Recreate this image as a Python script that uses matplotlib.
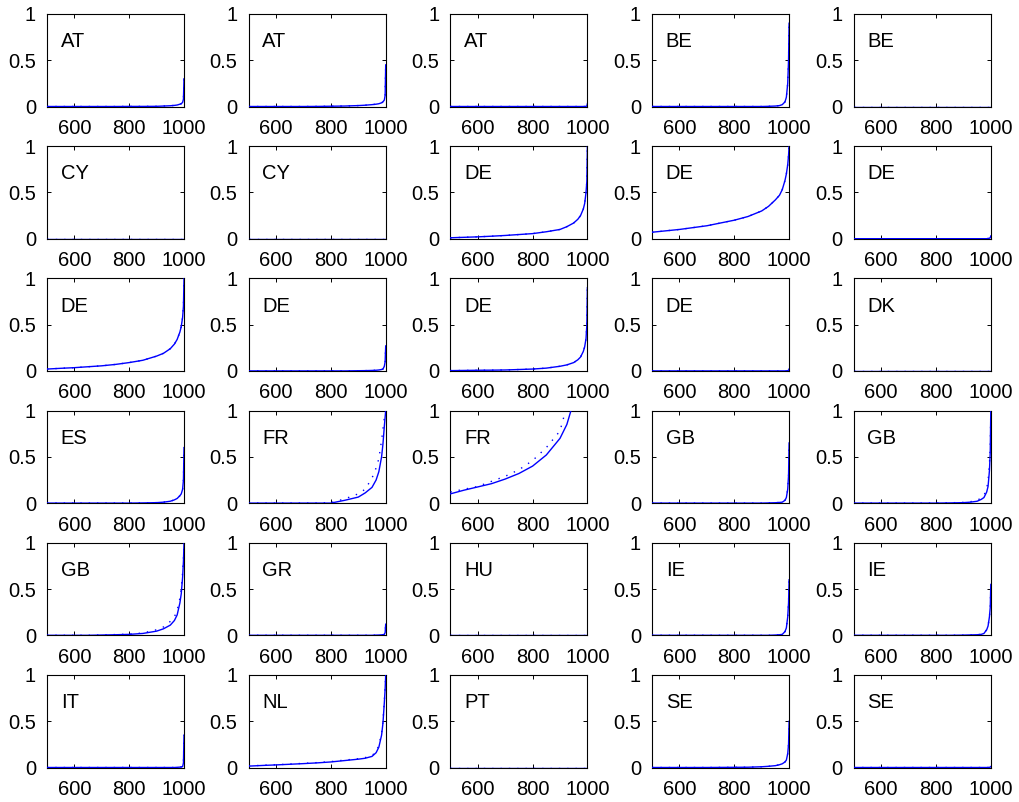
import numpy as np
import matplotlib
matplotlib.use("Agg")
import matplotlib.pyplot as plt

plt.rcParams['font.family'] = ['Liberation Sans', 'DejaVu Sans']

# panel labels, row by row (6 rows x 5 columns)
labels = ["AT", "AT", "AT", "BE", "BE",
          "CY", "CY", "DE", "DE", "DE",
          "DE", "DE", "DE", "DE", "DK",
          "ES", "FR", "FR", "GB", "GB",
          "GB", "GR", "HU", "IE", "IE",
          "IT", "NL", "PT", "SE", "SE"]

# common x grid
x = [500, 550, 600, 650, 700, 750, 800, 850, 900, 925, 950, 965, 975, 985, 990, 995, 998, 1000]

nan = float("nan")
zero = [0] * 18

# solid blue curves
solid = [
    [0, 0, 0, 0, 0, 0, 0.001, 0.001, 0.002, 0.005, 0.008, 0.012, 0.016, 0.025, 0.03, 0.045, 0.08, 0.3],
    [0, 0, 0, 0, 0, 0.001, 0.003, 0.005, 0.01, 0.014, 0.02, 0.025, 0.03, 0.04, 0.05, 0.07, 0.12, 0.45],
    [0, 0, 0, 0, 0, 0, 0, 0, 0, 0, 0, 0, 0, 0, 0, 0.002, 0.005, 0.03],
    [0, 0, 0, 0, 0, 0, 0, 0, 0, 0.002, 0.005, 0.01, 0.02, 0.05, 0.1, 0.25, 0.5, 0.9],
    zero,
    zero,
    zero,
    [0.01, 0.015, 0.02, 0.027, 0.035, 0.045, 0.055, 0.075, 0.1, 0.13, 0.17, 0.21, 0.25, 0.32, 0.38, 0.5, 0.62, 1.0],
    [0.07, 0.085, 0.1, 0.12, 0.14, 0.17, 0.2, 0.24, 0.3, 0.35, 0.42, 0.47, 0.53, 0.63, 0.7, 0.8, 0.9, 1.0],
    [0, 0, 0, 0, 0, 0, 0, 0, 0, 0, 0, 0, 0, 0, 0.002, 0.005, 0.01, 0.03],
    [0.02, 0.028, 0.035, 0.045, 0.055, 0.07, 0.09, 0.115, 0.16, 0.19, 0.24, 0.29, 0.34, 0.42, 0.48, 0.58, 0.7, 1.0],
    [0, 0, 0, 0, 0, 0, 0, 0, 0.002, 0.003, 0.005, 0.007, 0.01, 0.015, 0.02, 0.05, 0.1, 0.27],
    [0.003, 0.005, 0.007, 0.008, 0.01, 0.015, 0.02, 0.03, 0.05, 0.065, 0.09, 0.12, 0.15, 0.21, 0.26, 0.35, 0.5, 0.9],
    [0, 0, 0, 0, 0, 0, 0, 0, 0, 0, 0, 0, 0, 0, 0, 0.003, 0.006, 0.02],
    zero,
    [0, 0, 0, 0, 0, 0, 0, 0.002, 0.005, 0.01, 0.02, 0.035, 0.05, 0.08, 0.1, 0.15, 0.25, 0.6],
    [0, 0, 0, 0, 0, 0, 0, 0.03, 0.065, 0.11, 0.17, 0.25, 0.34, 0.5, 0.64, 0.83, 0.93, 1.0],
    [0.10, 0.14, 0.175, 0.21, 0.26, 0.32, 0.40, 0.52, 0.70, 0.85, 1.1, nan, nan, nan, nan, nan, nan, nan],
    [0, 0, 0, 0, 0, 0, 0, 0, 0, 0.002, 0.004, 0.007, 0.01, 0.03, 0.06, 0.15, 0.3, 0.65],
    [0, 0, 0, 0, 0, 0, 0, 0.002, 0.005, 0.01, 0.02, 0.04, 0.06, 0.12, 0.18, 0.35, 0.55, 1.0],
    [0, 0, 0, 0, 0.003, 0.006, 0.01, 0.02, 0.045, 0.07, 0.11, 0.16, 0.22, 0.35, 0.45, 0.63, 0.8, 1.0],
    [0, 0, 0, 0, 0, 0, 0, 0, 0, 0, 0, 0.002, 0.003, 0.005, 0.007, 0.01, 0.03, 0.12],
    zero,
    [0, 0, 0, 0, 0, 0, 0, 0, 0, 0, 0.003, 0.006, 0.01, 0.04, 0.08, 0.2, 0.35, 0.6],
    [0, 0, 0, 0, 0, 0, 0, 0, 0.002, 0.004, 0.006, 0.01, 0.02, 0.06, 0.1, 0.2, 0.3, 0.55],
    [0, 0, 0, 0, 0, 0, 0, 0, 0, 0, 0, 0, 0.002, 0.004, 0.006, 0.01, 0.05, 0.35],
    [0.015, 0.022, 0.028, 0.035, 0.042, 0.05, 0.06, 0.075, 0.09, 0.1, 0.12, 0.16, 0.22, 0.35, 0.48, 0.7, 0.85, 1.0],
    zero,
    [0, 0, 0, 0, 0, 0.001, 0.002, 0.003, 0.008, 0.013, 0.02, 0.03, 0.04, 0.06, 0.08, 0.15, 0.25, 0.5],
    [0, 0, 0, 0, 0, 0, 0, 0, 0, 0, 0, 0, 0, 0, 0, 0.002, 0.004, 0.01],
]

# dotted curves where they differ visibly from the solid one (None = same)
dotted = [None] * 30
dotted[16] = [0, 0, 0, 0, 0, 0, 0.005, 0.045, 0.1, 0.15, 0.27, 0.38, 0.48, 0.68, 0.8, 0.92, 0.97, 1.0]
dotted[17] = [0.12, 0.15, 0.18, 0.235, 0.29, 0.36, 0.46, 0.6, 0.78, 1.05, nan, nan, nan, nan, nan, nan, nan, nan]
dotted[19] = [0, 0, 0, 0, 0, 0, 0.001, 0.003, 0.008, 0.015, 0.03, 0.055, 0.08, 0.16, 0.24, 0.42, 0.6, 1.0]
dotted[20] = [0, 0, 0, 0, 0.004, 0.008, 0.013, 0.025, 0.06, 0.09, 0.15, 0.2, 0.27, 0.4, 0.5, 0.68, 0.83, 1.0]
dotted[26] = [0.017, 0.024, 0.03, 0.037, 0.045, 0.053, 0.064, 0.08, 0.095, 0.107, 0.13, 0.17, 0.24, 0.37, 0.5, 0.72, 0.87, 1.0]

fig = plt.figure(figsize=(10.2, 8.02), dpi=100)
W, H = 1020.0, 802.0

for k in range(30):
    r, c = divmod(k, 5)
    left = 47 + c * 201.7
    top = 14 + r * 132.2
    ax = fig.add_axes([left / W, 1 - (top + 92.5) / H, 137 / W, 92.5 / H])

    yd = dotted[k] if dotted[k] is not None else solid[k]
    ax.plot(x, yd, color='b', linestyle=(0, (1, 5)), linewidth=1.0, zorder=3)
    ax.plot(x, solid[k], color='b', linewidth=1.0, zorder=3)

    ax.text(550, 0.7, labels[k], fontsize=14.5, va='center', ha='left')

    ax.set_xlim(500, 1000)
    ax.set_ylim(0, 1)
    ax.set_xticks([600, 800, 1000])
    ax.set_yticks([0, 0.5, 1])
    ax.set_yticklabels(['0', '0.5', '1'])
    ax.tick_params(direction='in', top=True, right=True, length=3, width=0.7,
                   labelsize=14.5)
    ax.tick_params(axis='x', pad=9)
    ax.tick_params(axis='y', pad=8)
    for s in ax.spines.values():
        s.set_linewidth(0.8)

fig.savefig("out.png", dpi=100)
